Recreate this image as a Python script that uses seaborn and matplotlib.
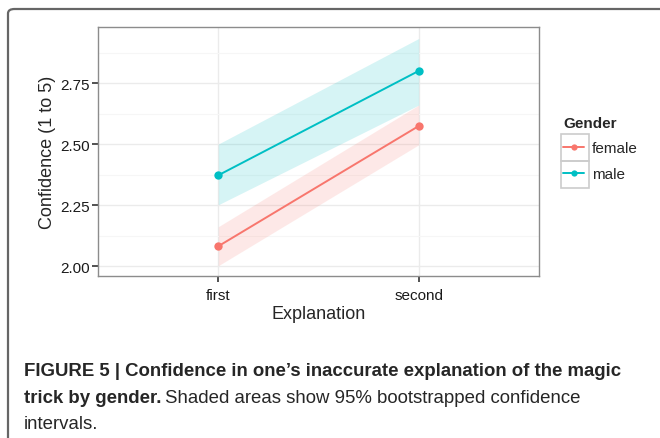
import matplotlib
matplotlib.use("Agg")
import matplotlib.pyplot as plt
from matplotlib.lines import Line2D
from matplotlib.patches import FancyBboxPatch, Rectangle
from matplotlib.ticker import MultipleLocator
import pandas as pd
import seaborn as sns

# ── Data ────────────────────────────────────────────────────────────────
explanation = ["first", "second"]
genders = ["female", "male"]
female_mean = [2.081, 2.574]
female_lo = [2.001, 2.497]
female_hi = [2.161, 2.660]
male_mean = [2.372, 2.800]
male_lo = [2.251, 2.660]
male_hi = [2.500, 2.933]
y_ticks = [2.00, 2.25, 2.50, 2.75]

palette = {"female": "#F8766D", "male": "#00BFC4"}

df = pd.DataFrame({
    "Explanation": explanation * 2,
    "Gender": ["female"] * 2 + ["male"] * 2,
    "mean": female_mean + male_mean,
    "lo": female_lo + male_lo,
    "hi": female_hi + male_hi,
})

sns.set_theme(style="whitegrid")
plt.rcParams["font.family"] = ["Liberation Sans", "DejaVu Sans"]

fig = plt.figure(figsize=(6.6, 4.39), dpi=100)
ax = fig.add_axes([98 / 660, 1 - 277 / 439, 441 / 660, 249 / 439])

# ── Confidence bands ────────────────────────────────────────────────────
for g in genders:
    sub = df[df["Gender"] == g]
    ax.fill_between(range(len(sub)), sub["lo"], sub["hi"],
                    color=palette[g], alpha=0.16, lw=0, zorder=1)

sns.lineplot(data=df, x="Explanation", y="mean", hue="Gender",
             palette=palette, marker="o", markersize=6, markeredgewidth=0,
             linewidth=1.4, ax=ax, zorder=3, legend=False)

# ── Axes styling (ggplot theme_bw look) ─────────────────────────────────
ax.set_xlim(-0.6, 1.6)
ax.set_ylim(1.959, 2.98)
ax.set_yticks(y_ticks)
ax.set_yticklabels([f"{v:.2f}" for v in y_ticks])
ax.yaxis.set_minor_locator(MultipleLocator(0.125))
ax.grid(which="major", color="#ebebeb", lw=1.0)
ax.grid(which="minor", axis="y", color="#f6f6f6", lw=0.8)
ax.set_axisbelow(True)
for s in ax.spines.values():
    s.set_color("#8c8c8c")
    s.set_linewidth(1.0)
ax.tick_params(axis="both", which="major", length=4, width=1.2, color="#333333",
               labelsize=11, labelcolor="#1a1a1a", pad=2, left=True, bottom=True)
ax.tick_params(axis="x", which="major", pad=5)
ax.tick_params(axis="y", which="minor", length=0)
ax.set_xlabel("Explanation", fontsize=13, labelpad=2)
ax.set_ylabel("Confidence (1 to 5)", fontsize=13, labelpad=3)

# ── Legend ──────────────────────────────────────────────────────────────
handles = [Line2D([], [], color=palette[g], marker="o", markersize=4.5,
                  markeredgewidth=0, lw=1.4) for g in genders]
leg = ax.legend(handles, genders, title="Gender", loc="upper left",
                bbox_to_anchor=(563 / 660, 1 - 117 / 439),
                bbox_transform=fig.transFigure, frameon=False,
                fontsize=11, title_fontsize=11, handlelength=1.4,
                handletextpad=0.5, labelspacing=0.75, borderpad=0,
                borderaxespad=0, alignment="left")
leg.get_title().set_fontweight("bold")
for y0 in (135, 162):
    fig.add_artist(Rectangle((561 / 660, 1 - (y0 + 26.5) / 439), 28 / 660, 26.5 / 439,
                             transform=fig.transFigure, fill=False,
                             edgecolor="#cccccc", lw=1.2))

# ── Outer frame and caption ─────────────────────────────────────────────
fig.add_artist(FancyBboxPatch((8 / 660, -0.1), 1.1, 1.1 - 10 / 439,
                              boxstyle="round,pad=0,rounding_size=0.01",
                              transform=fig.transFigure, fill=False,
                              edgecolor="#666666", lw=1.6))

cap_font = ["Liberation Sans Narrow", "Liberation Sans", "DejaVu Sans"]
fig.text(24 / 660, 1 - 372 / 439,
         "FIGURE 5 | Confidence in one\u2019s inaccurate explanation of the magic",
         fontsize=13.4, fontweight="bold", family=cap_font, va="center")
t1 = fig.text(24 / 660, 1 - 399 / 439, "trick by gender.", fontsize=13.4,
              fontweight="bold", family=cap_font, va="center")
fig.canvas.draw()
bb = t1.get_window_extent()
fig.text(bb.x1 / 660 + 4 / 660, 1 - 399 / 439,
         "Shaded areas show 95% bootstrapped confidence",
         fontsize=13.4, family=cap_font, va="center")
fig.text(24 / 660, 1 - 425 / 439, "intervals.", fontsize=13.4,
         family=cap_font, va="center")

fig.savefig("out.png", dpi=100)
